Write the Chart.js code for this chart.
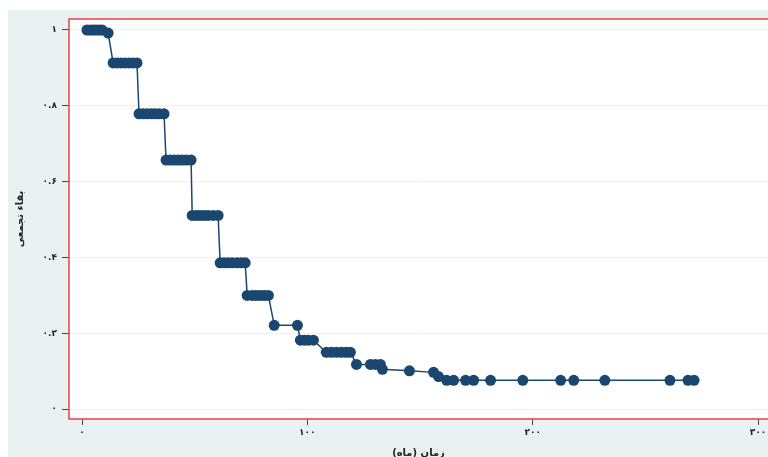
<!DOCTYPE html>
<html>
<head>
<meta charset="utf-8">
<script src="https://cdn.jsdelivr.net/npm/chart.js"></script>
<style>
  html, body { margin: 0; padding: 0; background: #fff; overflow: hidden; }
  canvas { display: block; }
</style>
</head>
<body>
<canvas id="km" width="768" height="457"></canvas>
<script>
// survival estimates (months, cumulative survival)
const months = [2.2, 3.6, 4.9, 6.2, 7.6, 8.9, 11.6,
  13.8, 15.6, 17.3, 19.1, 20.9, 22.7, 24.4,
  25.3, 27.1, 28.9, 30.7, 32.4, 34.2, 36.4,
  37.3, 39.1, 40.9, 42.7, 44.4, 46.2, 48.4,
  48.9, 50.7, 52.4, 54.2, 56, 58.2, 60.4,
  61.3, 63.1, 64.9, 66.7, 68.9, 70.7, 72.4,
  73.3, 75.6, 77.3, 79.1, 80.9, 82.7,
  85.3, 95.6,
  96.9, 98.7, 100.4, 102.7,
  108.4, 110.7, 112.9, 115.1, 117.3, 119.1,
  121.8, 128, 130.2, 132.4, 133.3, 145.3, 156, 158.2, 161.8,
  164.9, 170.2, 173.8, 181.3, 195.6, 212.4, 218.2, 232, 260.9, 268.9, 271.6];
const survival = [1, 1, 1, 1, 1, 1, 0.992,
  0.913, 0.913, 0.913, 0.913, 0.913, 0.913, 0.913,
  0.779, 0.779, 0.779, 0.779, 0.779, 0.779, 0.779,
  0.657, 0.657, 0.657, 0.657, 0.657, 0.657, 0.657,
  0.511, 0.511, 0.511, 0.511, 0.511, 0.511, 0.511,
  0.386, 0.386, 0.386, 0.386, 0.386, 0.386, 0.386,
  0.300, 0.300, 0.300, 0.300, 0.300, 0.300,
  0.221, 0.221,
  0.182, 0.182, 0.182, 0.182,
  0.150, 0.150, 0.150, 0.150, 0.150, 0.150,
  0.118, 0.118, 0.118, 0.118, 0.105, 0.101, 0.097, 0.086, 0.076,
  0.076, 0.076, 0.076, 0.076, 0.076, 0.076, 0.076, 0.076, 0.076, 0.076, 0.076];

const xTickValues = [0, 100, 200, 300];
const xTickLabels = ['۰', '۱۰۰', '۲۰۰', '۳۰۰'];
const yTickValues = [0, 0.2, 0.4, 0.6, 0.8, 1];
const yTickLabels = ['۰', '۰.۲', '۰.۴', '۰.۶', '۰.۸', '۱'];

const navy = '#1a476f';

const frame = {
  id: 'frame',
  beforeDraw(chart) {
    const c = chart.ctx, a = chart.chartArea;
    c.save();
    c.fillStyle = '#ffffff';
    c.fillRect(0, 0, chart.width, chart.height);
    c.fillStyle = '#eaf1f3';
    c.fillRect(8, 10, chart.width - 8, chart.height - 10);
    c.fillStyle = '#ffffff';
    c.fillRect(a.left, a.top, chart.width - a.left, a.bottom - a.top);
    c.restore();
  },
  afterDatasetsDraw(chart) {
    const c = chart.ctx, a = chart.chartArea;
    c.save();
    c.strokeStyle = '#e8423f';
    c.lineWidth = 1.5;
    c.beginPath();
    c.moveTo(chart.width, a.top);
    c.lineTo(a.left, a.top);
    c.lineTo(a.left, a.bottom);
    c.lineTo(chart.width, a.bottom);
    c.stroke();
    c.restore();
  }
};

new Chart(document.getElementById('km').getContext('2d'), {
  type: 'scatter',
  data: {
    datasets: [{
      data: months.map((m, i) => ({x: m, y: survival[i]})),
      showLine: true,
      borderColor: navy,
      borderWidth: 1.5,
      pointRadius: 5.5,
      pointBackgroundColor: navy,
      pointBorderColor: navy,
      pointBorderWidth: 0,
    }]
  },
  options: {
    responsive: false,
    animation: false,
    layout: { autoPadding: false, padding: { top: 19, right: 0, bottom: 0, left: 0 } },
    plugins: { legend: { display: false }, tooltip: { enabled: false } },
    scales: {
      x: {
        type: 'linear',
        min: -5.77,
        max: 304.4,
        afterFit: (s) => { s.height = 38; s.paddingRight = 0; s.paddingLeft = 0; },
        afterBuildTicks: (s) => { s.ticks = xTickValues.map(v => ({value: v})); },
        border: { display: false },
        grid: { drawOnChartArea: false, tickColor: '#444', tickLength: 6, tickWidth: 1 },
        ticks: {
          padding: 2,
          color: '#222',
          font: { family: 'DejaVu Sans', size: 9, weight: 'bold' },
          callback: (v) => xTickLabels[xTickValues.indexOf(v)]
        },
        title: {
          display: true,
          text: 'زمان (ماه)',
          color: '#222',
          padding: { top: 0, bottom: -2 },
          font: { family: 'DejaVu Sans', size: 10, weight: 'bold' }
        }
      },
      y: {
        min: -0.026,
        max: 1.029,
        afterFit: (s) => { s.width = 69; s.paddingTop = 0; s.paddingBottom = 0; },
        afterBuildTicks: (s) => { s.ticks = yTickValues.map(v => ({value: v})); },
        border: { display: false },
        grid: { color: '#f1f1f1', tickColor: '#444', tickLength: 7, tickWidth: 1 },
        ticks: {
          padding: 5,
          color: '#222',
          font: { family: 'DejaVu Sans', size: 9, weight: 'bold' },
          callback: (v) => yTickLabels[yTickValues.indexOf(v)]
        },
        title: {
          display: true,
          text: 'بقاء تجمعی',
          color: '#222',
          padding: { top: 14, bottom: 0 },
          font: { family: 'DejaVu Sans', size: 10, weight: 'bold' }
        }
      }
    }
  },
  plugins: [frame]
});
</script>
</body>
</html>
